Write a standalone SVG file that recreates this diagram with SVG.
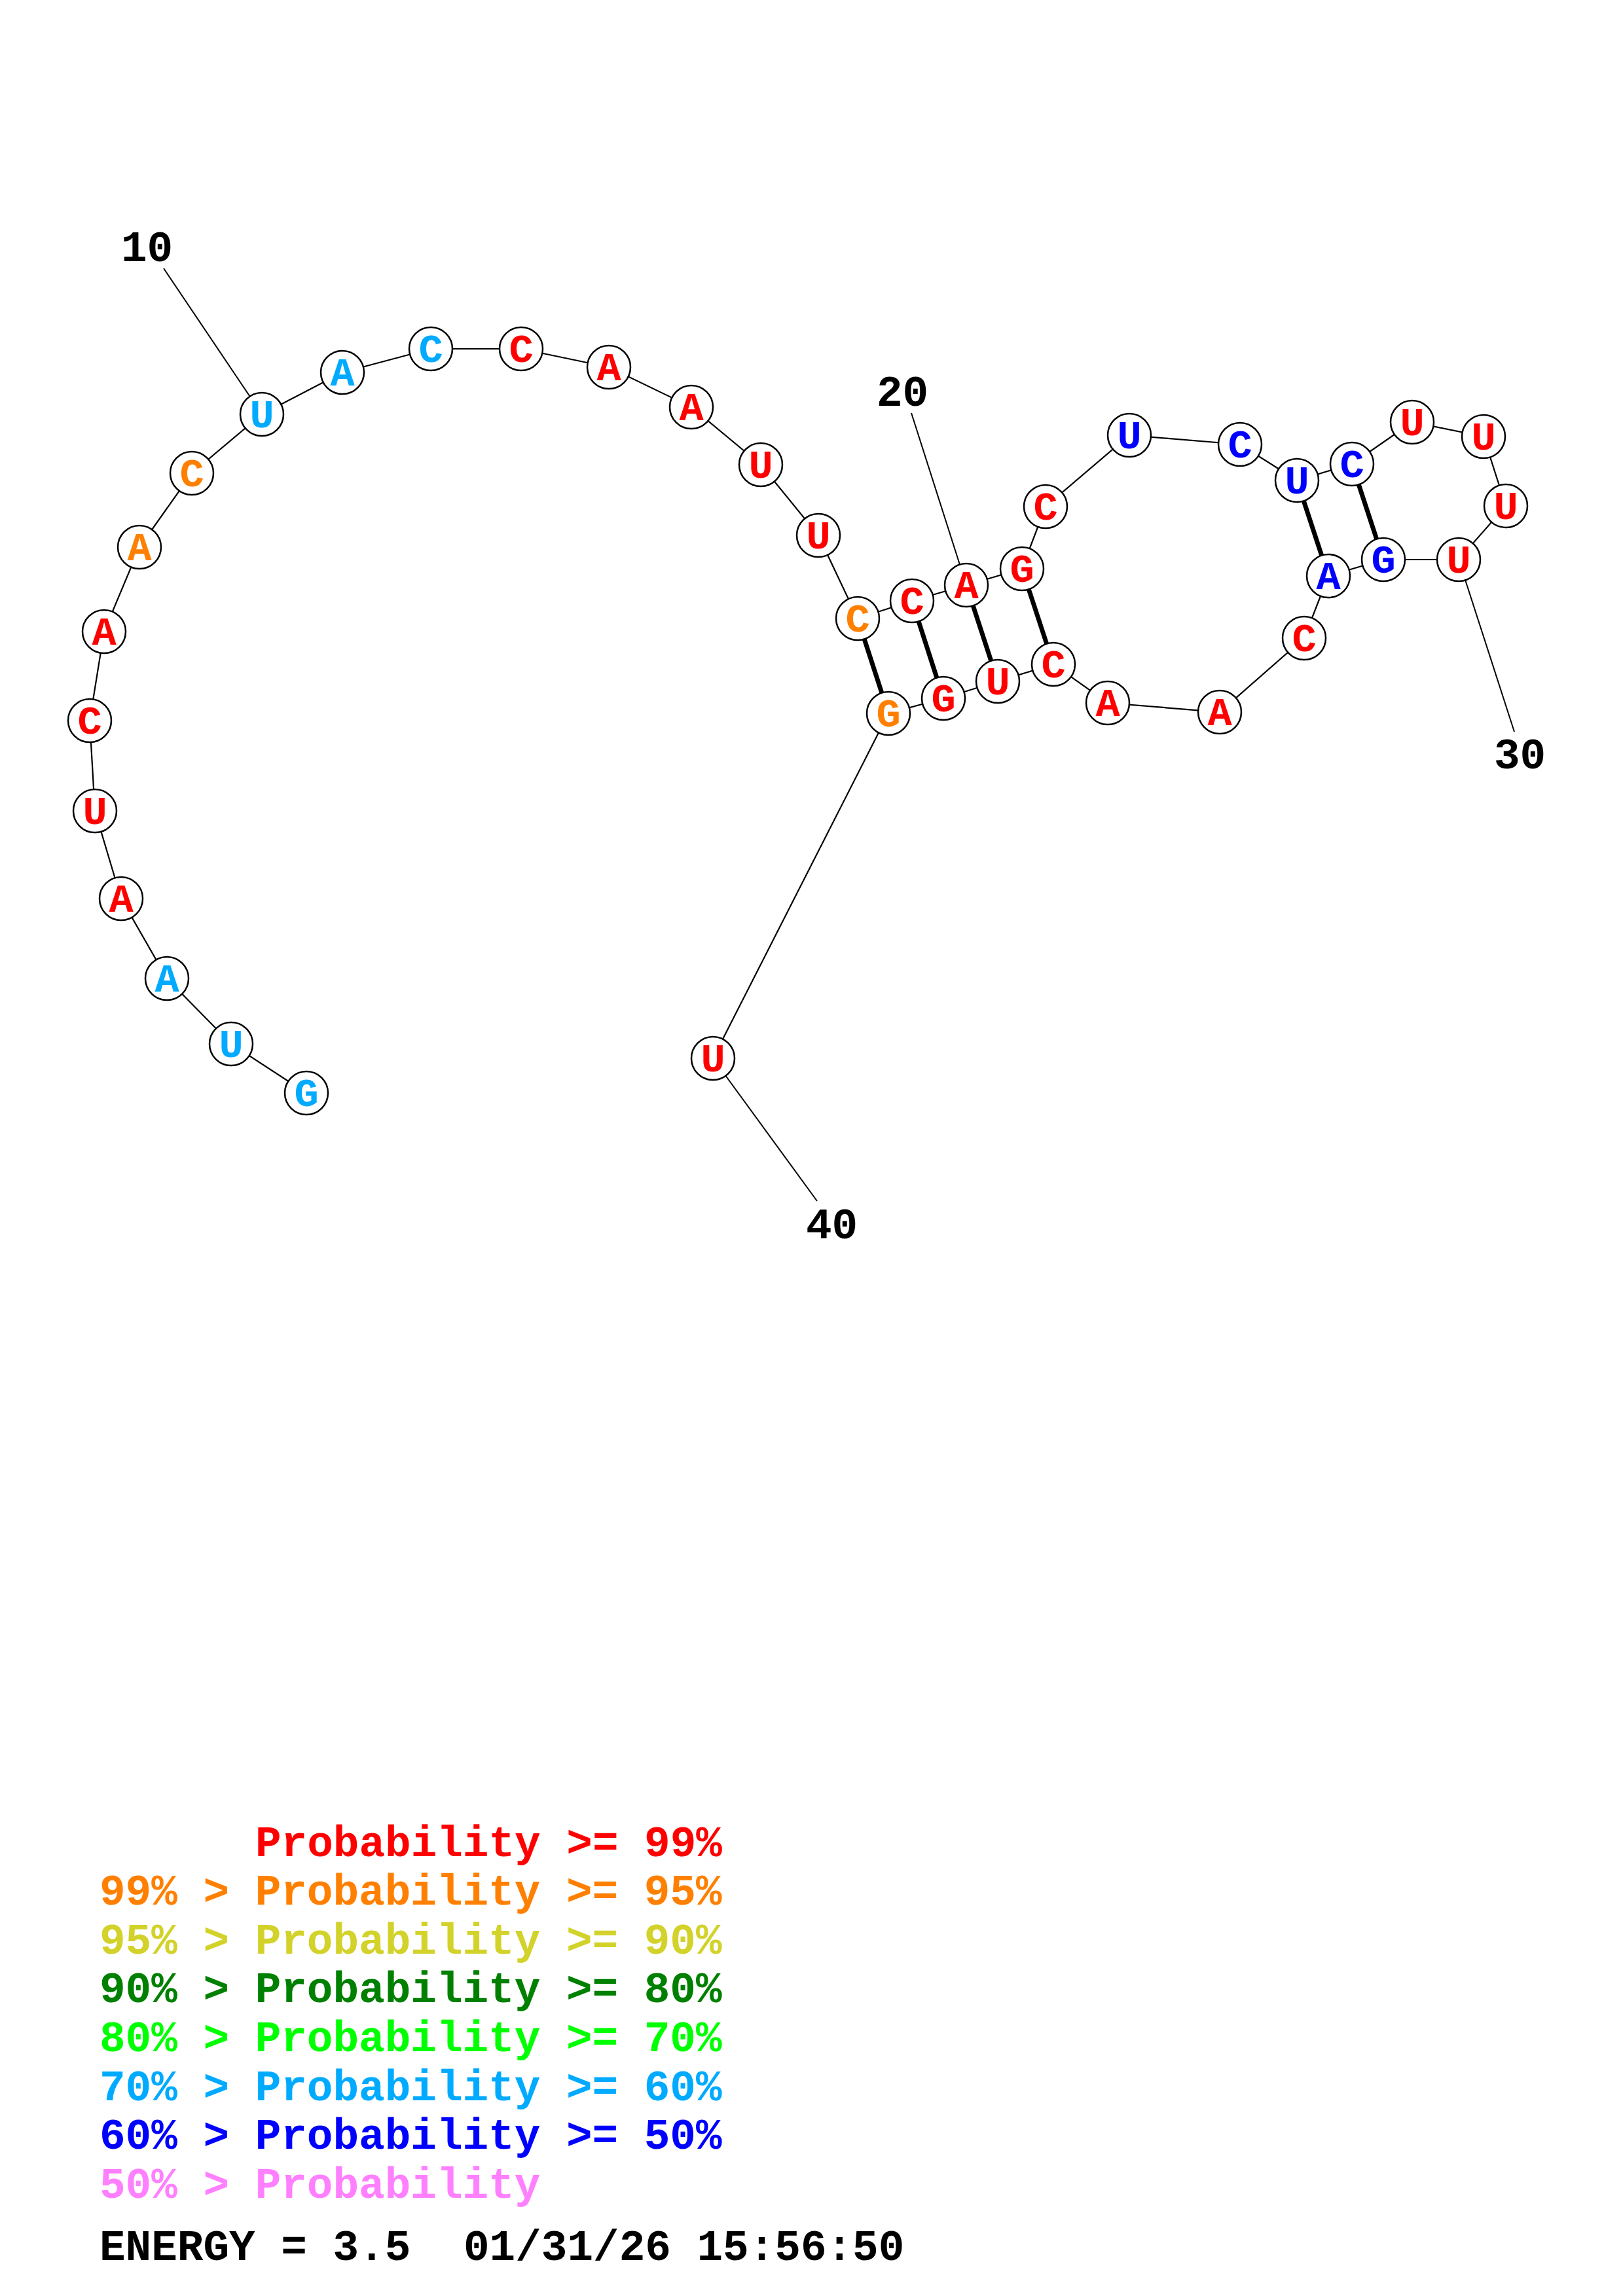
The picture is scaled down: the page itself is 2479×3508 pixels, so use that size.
<svg xmlns="http://www.w3.org/2000/svg" width="2479" height="3508" viewBox="0 0 2479 3508">
<style>
.bb{stroke:#000;stroke-width:2.2;fill:none}
.pr{stroke:#000;stroke-width:7;fill:none}
.lab{stroke:#000;stroke-width:2;fill:none}
circle{fill:#fff;stroke:#000;stroke-width:2.5}
text{font-family:"Liberation Mono","Courier New",monospace;font-weight:bold}
.n text{font-size:62px;text-anchor:middle}
.num{font-size:66px;fill:#000}
.lg{font-size:66px}
.r{fill:#FF0000}.o{fill:#FF8000}.y{fill:#D2D22A}.dg{fill:#008000}.g{fill:#00FF00}.lb{fill:#00AAFF}.b{fill:#0000FF}.p{fill:#FF80FF}
</style>
<rect width="2479" height="3508" fill="#fff"/>
<g id="connectors">
<polyline class="bb" points="468,1670 353,1595 255,1495 185,1373 145,1239 137,1101 159,965 213,836 293,723 400,633 523,569 658,533 796,533 930,561 1056,622 1162,710 1250,818 1310,945 1393,918 1476,894 1561,869 1597,774 1725,665 1894,679 1981,734 2065,709 2157,645 2266,667 2300,773 2228,855 2113,855 2029,880 1992,975 1863,1088 1692,1074 1609,1015 1524,1041 1441,1067 1357,1090 1089,1617"/>
<line class="pr" x1="1310" y1="945" x2="1357" y2="1090"/>
<line class="pr" x1="1393" y1="918" x2="1441" y2="1067"/>
<line class="pr" x1="1476" y1="894" x2="1524" y2="1041"/>
<line class="pr" x1="1561" y1="869" x2="1609" y2="1015"/>
<line class="pr" x1="1981" y1="734" x2="2029" y2="880"/>
<line class="pr" x1="2065" y1="709" x2="2113" y2="855"/>
<line class="lab" x1="250" y1="410" x2="400" y2="633"/>
<line class="lab" x1="1392" y1="631" x2="1476" y2="894"/>
<line class="lab" x1="2313" y1="1118" x2="2228" y2="855"/>
<line class="lab" x1="1248" y1="1835" x2="1089" y2="1617"/>
</g>
<g class="n">
<g id="n1"><circle cx="468" cy="1670" r="33"/><text x="468" y="1690" class="lb">G</text></g>
<g id="n2"><circle cx="353" cy="1595" r="33"/><text x="353" y="1615" class="lb">U</text></g>
<g id="n3"><circle cx="255" cy="1495" r="33"/><text x="255" y="1515" class="lb">A</text></g>
<g id="n4"><circle cx="185" cy="1373" r="33"/><text x="185" y="1393" class="r">A</text></g>
<g id="n5"><circle cx="145" cy="1239" r="33"/><text x="145" y="1259" class="r">U</text></g>
<g id="n6"><circle cx="137" cy="1101" r="33"/><text x="137" y="1121" class="r">C</text></g>
<g id="n7"><circle cx="159" cy="965" r="33"/><text x="159" y="985" class="r">A</text></g>
<g id="n8"><circle cx="213" cy="836" r="33"/><text x="213" y="856" class="o">A</text></g>
<g id="n9"><circle cx="293" cy="723" r="33"/><text x="293" y="743" class="o">C</text></g>
<g id="n10"><circle cx="400" cy="633" r="33"/><text x="400" y="653" class="lb">U</text></g>
<g id="n11"><circle cx="523" cy="569" r="33"/><text x="523" y="589" class="lb">A</text></g>
<g id="n12"><circle cx="658" cy="533" r="33"/><text x="658" y="553" class="lb">C</text></g>
<g id="n13"><circle cx="796" cy="533" r="33"/><text x="796" y="553" class="r">C</text></g>
<g id="n14"><circle cx="930" cy="561" r="33"/><text x="930" y="581" class="r">A</text></g>
<g id="n15"><circle cx="1056" cy="622" r="33"/><text x="1056" y="642" class="r">A</text></g>
<g id="n16"><circle cx="1162" cy="710" r="33"/><text x="1162" y="730" class="r">U</text></g>
<g id="n17"><circle cx="1250" cy="818" r="33"/><text x="1250" y="838" class="r">U</text></g>
<g id="n18"><circle cx="1310" cy="945" r="33"/><text x="1310" y="965" class="o">C</text></g>
<g id="n19"><circle cx="1393" cy="918" r="33"/><text x="1393" y="938" class="r">C</text></g>
<g id="n20"><circle cx="1476" cy="894" r="33"/><text x="1476" y="914" class="r">A</text></g>
<g id="n21"><circle cx="1561" cy="869" r="33"/><text x="1561" y="889" class="r">G</text></g>
<g id="n22"><circle cx="1597" cy="774" r="33"/><text x="1597" y="794" class="r">C</text></g>
<g id="n23"><circle cx="1725" cy="665" r="33"/><text x="1725" y="685" class="b">U</text></g>
<g id="n24"><circle cx="1894" cy="679" r="33"/><text x="1894" y="699" class="b">C</text></g>
<g id="n25"><circle cx="1981" cy="734" r="33"/><text x="1981" y="754" class="b">U</text></g>
<g id="n26"><circle cx="2065" cy="709" r="33"/><text x="2065" y="729" class="b">C</text></g>
<g id="n27"><circle cx="2157" cy="645" r="33"/><text x="2157" y="665" class="r">U</text></g>
<g id="n28"><circle cx="2266" cy="667" r="33"/><text x="2266" y="687" class="r">U</text></g>
<g id="n29"><circle cx="2300" cy="773" r="33"/><text x="2300" y="793" class="r">U</text></g>
<g id="n30"><circle cx="2228" cy="855" r="33"/><text x="2228" y="875" class="r">U</text></g>
<g id="n31"><circle cx="2113" cy="855" r="33"/><text x="2113" y="875" class="b">G</text></g>
<g id="n32"><circle cx="2029" cy="880" r="33"/><text x="2029" y="900" class="b">A</text></g>
<g id="n33"><circle cx="1992" cy="975" r="33"/><text x="1992" y="995" class="r">C</text></g>
<g id="n34"><circle cx="1863" cy="1088" r="33"/><text x="1863" y="1108" class="r">A</text></g>
<g id="n35"><circle cx="1692" cy="1074" r="33"/><text x="1692" y="1094" class="r">A</text></g>
<g id="n36"><circle cx="1609" cy="1015" r="33"/><text x="1609" y="1035" class="r">C</text></g>
<g id="n37"><circle cx="1524" cy="1041" r="33"/><text x="1524" y="1061" class="r">U</text></g>
<g id="n38"><circle cx="1441" cy="1067" r="33"/><text x="1441" y="1087" class="r">G</text></g>
<g id="n39"><circle cx="1357" cy="1090" r="33"/><text x="1357" y="1110" class="o">G</text></g>
<g id="n40"><circle cx="1089" cy="1617" r="33"/><text x="1089" y="1637" class="r">U</text></g>
</g>
<g id="numbers">
<text class="num" x="185" y="399">10</text>
<text class="num" x="1339" y="620">20</text>
<text class="num" x="2282" y="1174">30</text>
<text class="num" x="1231" y="1892">40</text>
</g>
<g id="legend" class="lg">
<text x="390" y="2835.5" class="r">Probability &gt;= 99%</text>
<text x="152" y="2910.1" class="o">99% &gt; Probability &gt;= 95%</text>
<text x="152" y="2984.7" class="y">95% &gt; Probability &gt;= 90%</text>
<text x="152" y="3059.3" class="dg">90% &gt; Probability &gt;= 80%</text>
<text x="152" y="3133.9" class="g">80% &gt; Probability &gt;= 70%</text>
<text x="152" y="3208.5" class="lb">70% &gt; Probability &gt;= 60%</text>
<text x="152" y="3283.1" class="b">60% &gt; Probability &gt;= 50%</text>
<text x="152" y="3357.7" class="p">50% &gt; Probability</text>
<text x="152" y="3453" fill="#000">ENERGY = 3.5<tspan x="708">01/31/26 15:56:50</tspan></text>
</g>
</svg>
